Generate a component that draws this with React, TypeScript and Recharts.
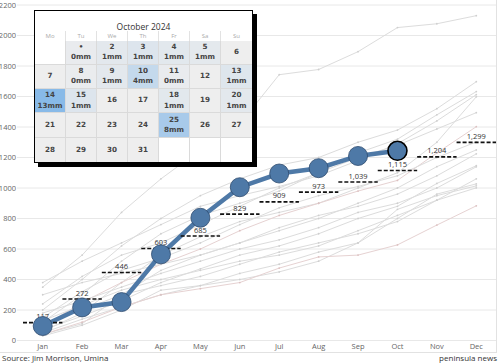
import React from "react";
import { LineChart, Line, XAxis, YAxis, CartesianGrid } from "recharts";

const months = ["Jan", "Feb", "Mar", "Apr", "May", "Jun", "Jul", "Aug", "Sep", "Oct", "Nov", "Dec"];
const rain2024 = [95, 217, 252, 565, 805, 1005, 1095, 1130, 1210, 1244];
const averages = [117, 272, 446, 603, 685, 829, 909, 973, 1039, 1115, 1204, 1299];
const yTicks = [0, 200, 400, 600, 800, 1000, 1200, 1400, 1600, 1800, 2000, 2200];

// past years, cumulative mm
const pastA = [350, 560, 840, 1060, 1250, 1420, 1743, 1777, 1894, 2052, 2077, 2130];
const pastB = [200, 400, 620, 800, 950, 1060, 1150, 1200, 1300, 1380, 1520, 1697];
const pastC = [120, 300, 520, 700, 820, 900, 980, 1100, 1230, 1320, 1480, 1632];
const pastD = [380, 520, 640, 760, 880, 950, 1010, 1080, 1180, 1290, 1440, 1612];
const pastE = [60, 180, 380, 560, 680, 780, 840, 900, 1000, 1100, 1300, 1598];
const pastF = [240, 420, 560, 640, 760, 880, 1000, 1100, 1200, 1280, 1387, 1494];
const pastG = [90, 250, 380, 500, 600, 720, 820, 900, 980, 1050, 1230, 1402];
const pastH = [150, 320, 460, 540, 640, 760, 870, 950, 1010, 1080, 1200, 1302];
const pastI = [40, 110, 300, 460, 560, 640, 720, 800, 900, 1000, 1140, 1250];
const pastJ = [300, 380, 440, 500, 560, 640, 740, 820, 880, 960, 1080, 1224];
const pastK = [70, 160, 260, 380, 470, 560, 620, 700, 800, 880, 1030, 1146];
const pastL = [180, 260, 350, 440, 520, 600, 660, 740, 840, 900, 1000, 1139];
const pastM = [100, 200, 300, 360, 420, 500, 580, 640, 700, 780, 920, 1060];
const pastN = [50, 140, 220, 300, 360, 440, 500, 580, 640, 800, 960, 1027];
const pastO = [30, 100, 200, 330, 360, 400, 450, 520, 640, 860, 950, 1014];
const pastP = [130, 230, 330, 400, 460, 520, 560, 620, 720, 820, 920, 1001];
const pastQ = [40, 120, 220, 300, 340, 380, 475, 548, 560, 627, 757, 883];
const pastYears = [pastA, pastB, pastC, pastD, pastE, pastF, pastG, pastH, pastI, pastJ, pastK, pastL, pastM, pastN, pastO, pastP, pastQ];
const pinkish = [6, 16];

// October 2024 daily rain (mm), null = no reading
const octRain = [0.3, 0.8, 1.4, 0.9, 0.7, null, null, 0.2, 0.8, 4.2, 0.3, null, 1.3, 12.8, 1.4, null, null, 0.9, null, 0.8, null, null, null, null, 8.0, null, null, null, null, null, null];
const dayNames = ["Mo", "Tu", "We", "Th", "Fr", "Sa", "Su"];
const firstWeekday = 1; // Tuesday

const data = months.map((m, i) => {
  const row: any = { month: m, main: i < rain2024.length ? rain2024[i] : null, avg: averages[i] };
  pastYears.forEach((s, k) => (row["p" + k] = s[i]));
  return row;
});

const W = 500;
const H = 363;
const LEFT = 23;
const RIGHT = 4;
const band = (W - LEFT - RIGHT) / months.length;

function cellColor(mm: number | null) {
  if (mm == null) return "#eeeeee";
  const t = Math.min(mm / 13, 1);
  const a = [238, 238, 238];
  const b = [135, 185, 232];
  const c = a.map((v, i) => Math.round(v + (b[i] - v) * Math.pow(t, 0.8)));
  return `rgb(${c[0]},${c[1]},${c[2]})`;
}

function Calendar() {
  const cells: any[] = [];
  for (let i = 0; i < 35; i++) {
    const d = i - firstWeekday + 1;
    const inMonth = d >= 1 && d <= octRain.length;
    const mm = inMonth ? octRain[d - 1] : null;
    cells.push(
      <div
        key={i}
        style={{
          background: inMonth ? cellColor(mm) : "#fff",
          borderRight: i % 7 === 6 ? "none" : "1px solid #dadada",
          borderBottom: i >= 28 ? "none" : "1px solid #dadada",
          display: "flex",
          flexDirection: "column",
          alignItems: "center",
          justifyContent: "center",
          fontSize: 7.2,
          fontWeight: 600,
          color: "#444",
          lineHeight: "10.5px",
        }}
      >
        {inMonth && <span>{d === 1 ? "•" : d}</span>}
        {inMonth && mm != null && <span>{Math.round(mm)}mm</span>}
      </div>
    );
  }
  return (
    <div
      style={{
        position: "absolute",
        left: 34,
        top: 10,
        width: 217,
        height: 151,
        border: "1.5px solid #000",
        boxShadow: "4px 4px 0 #000",
        background: "#fff",
        fontFamily: "DejaVu Sans",
      }}
    >
      <div style={{ height: 19.5, textAlign: "center", fontSize: 8.5, color: "#333", lineHeight: "31px", fontFamily: "Open Sans" }}>
        October 2024
      </div>
      <div style={{ display: "grid", gridTemplateColumns: "repeat(7, 1fr)", height: 10 }}>
        {dayNames.map((n, i) => (
          <div
            key={n}
            style={{
              textAlign: "center",
              fontSize: 6,
              color: "#aaa",
              lineHeight: "10px",
              borderRight: i < 6 ? "1px solid #e2e2e2" : "none",
              fontFamily: "Open Sans",
            }}
          >
            {n}
          </div>
        ))}
      </div>
      <div style={{ display: "grid", gridTemplateColumns: "repeat(7, 1fr)", gridTemplateRows: "repeat(5, 1fr)", height: 121.5 }}>
        {cells}
      </div>
    </div>
  );
}

const MainDot = (props: any) => {
  const { cx, cy, index, value } = props;
  if (value == null || cx == null) return null;
  const last = index === rain2024.length - 1;
  return (
    <circle
      key={"m" + index}
      cx={cx}
      cy={cy}
      r={9.5}
      fill="#4e79a7"
      stroke={last ? "#000" : "#2f4b6e"}
      strokeWidth={last ? 1.6 : 0.8}
    />
  );
};

const AvgMark = (props: any) => {
  const { cx, cy, index, value } = props;
  if (value == null || cx == null) return null;
  return (
    <g key={"a" + index}>
      <line x1={cx - band / 2} x2={cx + band / 2} y1={cy} y2={cy} stroke="#111" strokeWidth={1.6} strokeDasharray="4 2" />
      <text x={cx} y={cy - 3.5} textAnchor="middle" fontSize={7.5} fill="#333" fontFamily="Open Sans">
        {value.toLocaleString("en-US")}
      </text>
    </g>
  );
};

export default function App() {
  return (
    <div style={{ position: "absolute", left: 0, top: 0, width: W, height: H, background: "#fff", overflow: "hidden" }}>
      <LineChart width={W} height={H} data={data} margin={{ top: 5, right: RIGHT, left: 0, bottom: 0 }}>
        <CartesianGrid stroke="#e8e8e8" vertical={false} />
        <XAxis
          dataKey="month"
          height={22.5}
          tickLine={false}
          axisLine={false}
          tickSize={0}
          tickMargin={3}
          padding={{ left: band / 2, right: band / 2 }}
          tick={{ fontSize: 7.5, fill: "#666", fontFamily: "Open Sans" }}
          interval={0}
        />
        <YAxis
          width={LEFT}
          domain={[0, 2200]}
          ticks={yTicks}
          axisLine={false}
          tickLine={{ stroke: "#e8e8e8" }}
          tickSize={6}
          tickMargin={1}
          tick={{ fontSize: 7.5, fill: "#666", fontFamily: "Open Sans" }}
          interval={0}
        />
        {pastYears.map((_, k) => (
          <Line
            key={k}
            dataKey={"p" + k}
            stroke={pinkish.includes(k) ? "#e6d2d2" : "#dcdcdc"}
            strokeWidth={1}
            dot={{ r: 0.9, fill: pinkish.includes(k) ? "#dcc0c0" : "#cfcfcf", stroke: "none" }}
            activeDot={false}
            isAnimationActive={false}
          />
        ))}
        <Line dataKey="avg" stroke="none" dot={AvgMark} activeDot={false} isAnimationActive={false} />
        <Line
          dataKey="main"
          stroke="#4e79a7"
          strokeWidth={4.5}
          dot={MainDot}
          activeDot={false}
          connectNulls={false}
          isAnimationActive={false}
        />
      </LineChart>
      <div style={{ position: "absolute", left: 0, top: 352, width: 496, height: 1, background: "#e2e2e2" }} />
      <div style={{ position: "absolute", left: 496, top: 0, width: 1, height: 353, background: "#e2e2e2" }} />
      <Calendar />
      <div style={{ position: "absolute", left: 2, top: 353, fontSize: 8, color: "#333", fontFamily: "Open Sans", lineHeight: "10px" }}>
        Source: Jim Morrison, Umina
      </div>
      <div style={{ position: "absolute", right: 3, top: 353, fontSize: 8, color: "#333", fontFamily: "Open Sans", lineHeight: "10px" }}>
        peninsula news
      </div>
    </div>
  );
}
